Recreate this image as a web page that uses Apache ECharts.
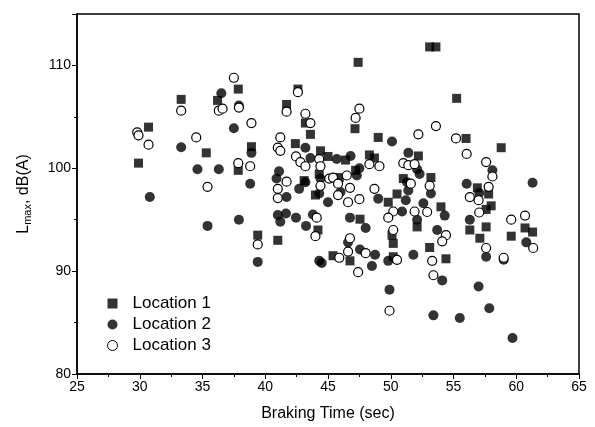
<!DOCTYPE html>
<html>
<head>
<meta charset="utf-8">
<script src="https://cdn.jsdelivr.net/npm/echarts@6/dist/echarts.min.js"></script>
<style>
  html, body { margin: 0; padding: 0; background: #fff; }
  #chart { width: 595px; height: 427px; }
</style>
</head>
<body>
<div id="chart"></div>
<script>
// braking time (sec) vs Lmax dB(A)
var location1 = [
  [37.85, 107.7], [36.2, 106.6], [33.3, 106.7], [30.7, 104.0], [35.3, 101.5],
  [38.9, 102.1], [29.9, 100.5], [37.85, 99.8], [39.4, 93.5], [41.0, 93.0],
  [47.4, 110.3], [42.6, 107.7], [41.7, 106.2], [43.2, 104.4], [47.15, 103.85],
  [43.6, 103.3], [49.0, 103.0], [42.4, 102.4], [44.4, 101.7], [45.0, 101.15],
  [48.3, 101.3], [48.7, 101.0], [44.3, 99.45], [45.9, 99.1], [51.0, 99.0],
  [50.5, 97.5], [52.2, 101.2], [43.1, 98.8], [44.0, 97.4], [49.8, 96.7],
  [47.55, 95.05], [44.2, 94.0], [52.1, 94.3], [50.1, 93.5], [50.2, 92.7],
  [45.4, 91.5], [46.75, 91.0], [50.2, 91.4], [56.0, 102.9], [58.8, 102.0],
  [56.9, 98.1], [57.8, 97.5], [58.0, 96.35], [57.6, 96.0], [56.3, 94.0],
  [57.6, 94.3], [57.1, 93.2], [59.6, 93.4], [60.7, 94.2], [61.3, 93.8],
  [53.2, 99.1], [54.0, 96.25], [53.1, 92.3], [54.4, 91.2], [53.1, 111.8],
  [53.6, 111.8], [55.25, 106.8], [46.4, 100.8], [47.2, 99.8]
];
var location2 = [
  [36.5, 107.3], [37.9, 106.1], [37.5, 103.9], [33.3, 102.05], [38.9, 101.5],
  [34.6, 99.9], [36.3, 99.9], [38.8, 98.5], [30.8, 97.2], [35.4, 94.4],
  [37.9, 95.0], [39.4, 90.9], [41.1, 99.7], [40.9, 99.0], [41.7, 97.2],
  [41.0, 95.45], [41.65, 95.6], [41.2, 94.8], [50.1, 102.6], [43.2, 102.0],
  [43.6, 101.0], [45.7, 100.9], [46.8, 101.2], [47.5, 100.0], [47.3, 99.3],
  [51.4, 101.5], [43.2, 98.65], [42.7, 98.0], [52.1, 99.9], [52.3, 99.45],
  [44.4, 99.0], [44.3, 97.55], [46.0, 97.7], [45.0, 96.7], [49.0, 97.05],
  [51.2, 96.9], [51.3, 98.65], [51.4, 97.85], [50.9, 95.8], [52.6, 96.6],
  [52.1, 95.0], [42.45, 95.2], [43.8, 95.5], [46.75, 95.2], [48.0, 94.2],
  [43.25, 94.4], [46.6, 92.8], [44.3, 91.0], [44.5, 90.8], [47.55, 92.1],
  [48.75, 91.6], [48.5, 90.5], [49.8, 91.0], [51.8, 91.6], [49.9, 88.2],
  [58.1, 99.8], [61.3, 98.6], [56.05, 98.5], [57.05, 97.6], [56.3, 95.0],
  [60.8, 92.8], [57.6, 91.4], [53.2, 97.55], [54.3, 95.4], [53.7, 94.0],
  [54.1, 89.1], [57.0, 88.5], [53.4, 85.7], [55.5, 85.45], [57.85, 86.4],
  [59.7, 83.5], [59.0, 91.1]
];
var location3 = [
  [37.5, 108.8], [36.3, 105.6], [36.6, 105.8], [37.9, 105.9], [33.3, 105.6],
  [29.8, 103.5], [29.9, 103.2], [30.7, 102.3], [38.9, 104.4], [34.5, 103.0],
  [37.85, 100.5], [38.8, 100.2], [35.4, 98.2], [39.4, 92.6], [41.0, 98.0],
  [41.7, 98.7], [41.0, 97.1], [42.6, 107.4], [47.5, 105.8], [47.2, 104.9],
  [41.7, 105.5], [43.2, 105.3], [43.6, 104.4], [52.2, 103.3], [41.2, 103.0],
  [41.0, 102.0], [41.2, 101.7], [42.45, 101.15], [42.8, 100.6], [43.2, 100.2],
  [44.3, 100.9], [44.4, 100.2], [48.3, 100.4], [49.1, 100.2], [51.0, 100.5],
  [51.4, 100.3], [51.9, 100.4], [45.1, 99.0], [45.4, 99.1], [45.8, 98.5],
  [46.5, 99.3], [44.4, 98.3], [46.75, 98.1], [48.7, 98.0], [51.6, 98.5],
  [45.8, 97.4], [46.6, 96.7], [47.5, 97.0], [50.2, 95.8], [49.8, 95.2],
  [51.9, 95.8], [52.9, 95.75], [44.1, 95.2], [44.0, 93.4], [46.75, 93.2],
  [50.2, 94.0], [46.6, 91.9], [45.9, 91.3], [48.0, 91.75], [47.4, 89.9],
  [50.5, 91.1], [49.9, 86.15], [53.6, 104.1], [55.2, 102.9], [56.05, 101.4],
  [57.6, 100.6], [58.1, 99.2], [57.8, 98.2], [56.3, 97.2], [57.0, 96.9],
  [57.05, 95.7], [59.6, 95.0], [60.7, 95.4], [61.35, 92.25], [57.6, 92.25],
  [59.0, 91.3], [53.1, 98.3], [54.4, 93.5], [54.1, 92.9], [53.3, 91.0],
  [53.4, 89.6]
];
var seriesNames = ["Location 1", "Location 2", "Location 3"];

var font = "Liberation Sans, Arial, sans-serif";
var chart = echarts.init(document.getElementById("chart"));

var option = {
  backgroundColor: "#fff",
  animation: false,
  grid: {
    left: 77, right: 16, top: 14, bottom: 53,
    show: true, borderColor: "#000", borderWidth: 1.5
  },
  legend: {
    orient: "vertical",
    left: 102, top: 290,
    itemGap: 4,
    itemWidth: 10, itemHeight: 10,
    textStyle: { fontFamily: font, fontSize: 17, color: "#000", padding: [0, 0, 0, 10] },
    data: [
      { name: seriesNames[0], icon: "rect", itemStyle: { color: "#000" } },
      { name: seriesNames[1], icon: "circle", itemStyle: { color: "#000" } },
      { name: seriesNames[2], icon: "circle", itemStyle: { color: "#fff", borderColor: "#000", borderWidth: 1 } }
    ]
  },
  xAxis: {
    type: "value",
    min: 25, max: 65, interval: 5,
    name: "Braking Time (sec)",
    nameLocation: "middle",
    nameGap: 32,
    nameTextStyle: { fontFamily: font, fontSize: 16, color: "#000" },
    axisLine: { onZero: false, lineStyle: { color: "#000", width: 1.5 } },
    axisTick: { inside: false, length: 5, lineStyle: { color: "#000" } },
    minorTick: { show: true, splitNumber: 2, length: 3, lineStyle: { color: "#000" } },
    axisLabel: { fontFamily: font, fontSize: 14, color: "#000", margin: 6 },
    splitLine: { show: false }
  },
  yAxis: {
    type: "value",
    min: 80, max: 115, interval: 10,
    name: "{n|L}{s|max}{n|, dB(A)}",
    nameLocation: "middle",
    nameGap: 44,
    nameTextStyle: {
      color: "#000",
      rich: {
        n: { fontFamily: font, fontSize: 16, color: "#000" },
        s: { fontFamily: font, fontSize: 11, color: "#000", verticalAlign: "bottom", padding: [8, 0, 0, 0] }
      }
    },
    axisLine: { onZero: false, lineStyle: { color: "#000", width: 1.5 } },
    axisTick: { inside: false, length: 5, lineStyle: { color: "#000" } },
    minorTick: { show: true, splitNumber: 2, length: 3, lineStyle: { color: "#000" } },
    axisLabel: { fontFamily: font, fontSize: 14, color: "#000", margin: 6, showMaxLabel: false },
    splitLine: { show: false }
  },
  series: [
    {
      name: seriesNames[0], type: "scatter", data: location1,
      symbol: "rect", symbolSize: 9,
      itemStyle: { color: "#000" }
    },
    {
      name: seriesNames[1], type: "scatter", data: location2,
      symbol: "circle", symbolSize: 10,
      itemStyle: { color: "#000" }
    },
    {
      name: seriesNames[2], type: "scatter", data: location3,
      symbol: "circle", symbolSize: 9,
      itemStyle: { color: "#fff", borderColor: "#000", borderWidth: 1.2, opacity: 1 }
    }
  ]
};

chart.setOption(option);
</script>
</body>
</html>
